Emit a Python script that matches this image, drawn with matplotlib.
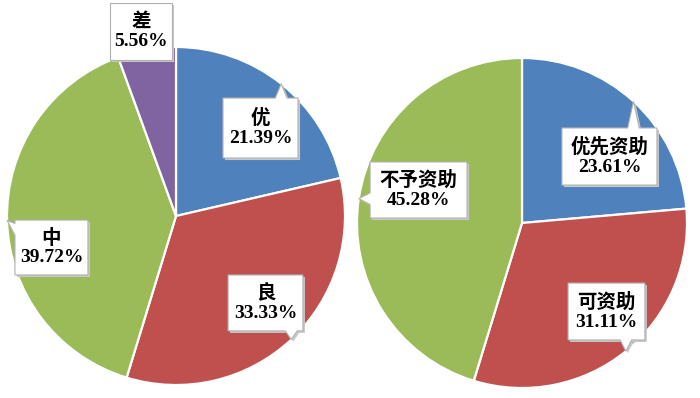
import numpy as np
import matplotlib.pyplot as plt
from matplotlib.patches import Polygon

# left pie: grades
grade_labels = ['优', '良', '中', '差']
grade_values = [21.39, 33.33, 39.72, 5.56]
# right pie: funding decisions
fund_labels = ['优先资助', '可资助', '不予资助']
fund_values = [23.61, 31.11, 45.28]

colors = ['#4F81BD', '#C0504D', '#9BBB59', '#8064A2']
font = ['Liberation Serif', 'Noto Sans CJK SC']


def callout(ax, box, tip, half=0.035, margin=0.02):
    # box = (x0, x1, y0, y1) in data units, tip = point the pointer goes to
    x0, x1, y0, y1 = box
    tx, ty = tip
    pts = [(x0, y0), (x1, y0), (x1, y1), (x0, y1)]
    inside = x0 <= tx <= x1 and y0 <= ty <= y1
    if not inside:
        if ty > y1:
            c = np.clip(tx, x0 + margin + half, x1 - margin - half)
            pts = [(x0, y0), (x1, y0), (x1, y1), (c + half, y1), (tx, ty), (c - half, y1), (x0, y1)]
        elif ty < y0:
            c = np.clip(tx, x0 + margin + half, x1 - margin - half)
            pts = [(x0, y0), (c - half, y0), (tx, ty), (c + half, y0), (x1, y0), (x1, y1), (x0, y1)]
        elif tx < x0:
            c = np.clip(ty, y0 + margin + half, y1 - margin - half)
            pts = [(x0, y0), (x1, y0), (x1, y1), (x0, y1), (x0, c + half), (tx, ty), (x0, c - half)]
        else:
            c = np.clip(ty, y0 + margin + half, y1 - margin - half)
            pts = [(x0, y0), (x1, y0), (x1, c - half), (tx, ty), (x1, c + half), (x1, y1), (x0, y1)]
    shadow = Polygon([(px + 0.012, py - 0.012) for px, py in pts], closed=True,
                     facecolor='#C8C8C8', edgecolor='none', clip_on=False, zorder=4)
    ax.add_patch(shadow)
    ax.add_patch(Polygon(pts, closed=True, facecolor='white', edgecolor='#B0B0B0',
                         lw=0.8, clip_on=False, zorder=5))


def draw_pie(ax, labels, values, boxes):
    wedges, _ = ax.pie(values, colors=colors[:len(values)], startangle=90,
                       counterclock=False, radius=1,
                       wedgeprops=dict(edgecolor='white', linewidth=1.6))
    ax.set_xlim(-1, 1)
    ax.set_ylim(-1, 1)
    ax.set_aspect('equal')
    ax.axis('off')
    for w, lab, val, box in zip(wedges, labels, values, boxes):
        mid = np.deg2rad((w.theta1 + w.theta2) / 2)
        tip = (np.cos(mid), np.sin(mid))
        callout(ax, box, tip)
        cx = (box[0] + box[1]) / 2
        cy = (box[2] + box[3]) / 2
        ax.text(cx, cy, f'{lab}\n{val:.2f}%', ha='center', va='center',
                fontsize=14, family=font, weight='bold', linespacing=1.15,
                zorder=6, clip_on=False)


fig = plt.figure(figsize=(7, 3.98), dpi=100)

ax1 = fig.add_axes([7 / 700, (398 - 385) / 398, 338 / 700, 338 / 398])
draw_pie(ax1, grade_labels, grade_values,
         [(0.278, 0.722, 0.343, 0.698),
          (0.308, 0.751, -0.680, -0.349),
          (-0.953, -0.521, -0.349, -0.024),
          (-0.391, -0.024, 0.923, 1.26)])

ax2 = fig.add_axes([357 / 700, (398 - 388) / 398, 330 / 700, 330 / 398])
draw_pie(ax2, fund_labels, fund_values,
         [(0.242, 0.818, 0.230, 0.576),
          (0.279, 0.745, -0.709, -0.364),
          (-0.921, -0.333, 0.030, 0.370)])

fig.savefig('out.png', dpi=100)
